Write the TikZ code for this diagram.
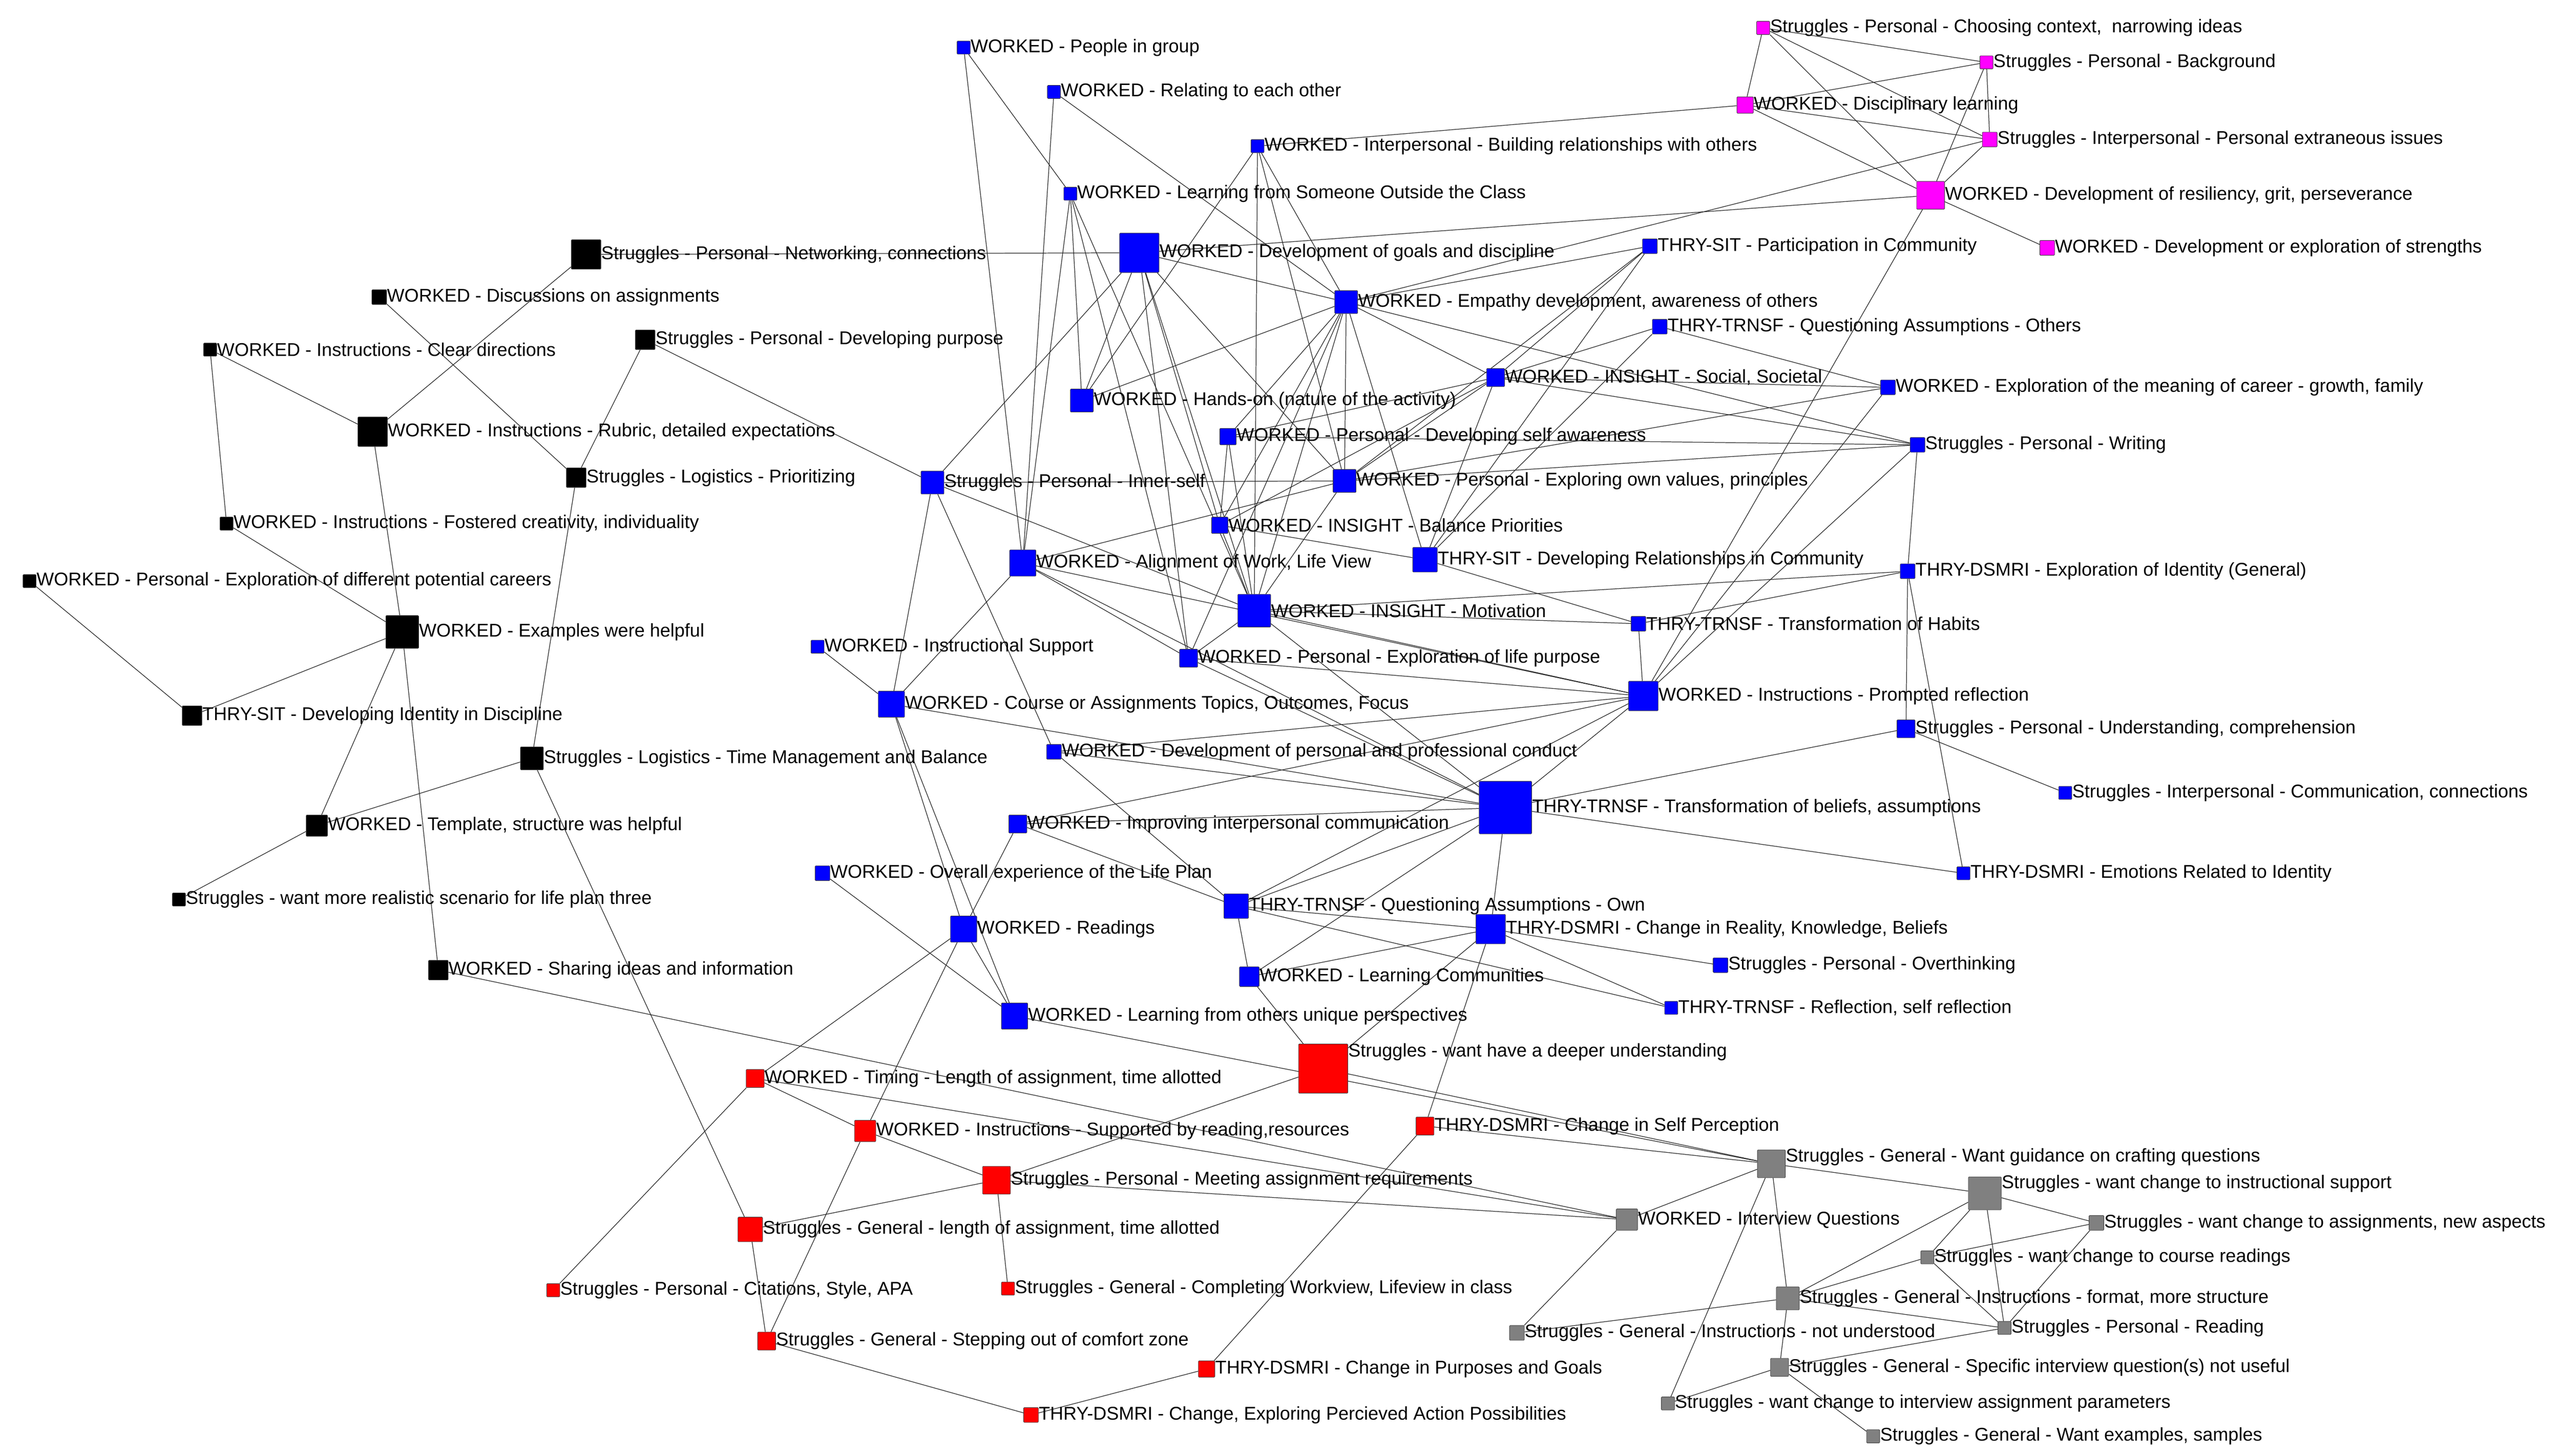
\documentclass[tikz,border=0pt]{standalone}
\usepackage{fontspec}
\setmainfont{Liberation Sans}
\usetikzlibrary{positioning, backgrounds}
\definecolor{pinkcode}{rgb}{1,0,1}

\begin{document}
\begin{tikzpicture}[x=0.05cm, y=-0.05cm,
    % square code nodes, size in mm
    code/.style={draw=black!75, rounded corners=0.6pt, inner sep=0pt,
        minimum size=#1mm, label distance=0.5pt},
    blk/.style={code=#1, fill=black},
    blu/.style={code=#1, fill=blue},
    mag/.style={code=#1, fill=pinkcode},
    rd/.style={code=#1, fill=red},
    gry/.style={code=#1, fill=gray},
    every label/.style={font=\fontsize{16}{18}\selectfont, inner sep=0pt, anchor=west},
    edge/.style={draw=black!85, line width=0.55pt}
]
\useasboundingbox (0,1) rectangle (1560,888);

% black group
\node[blk=9,label=right:{Struggles - Personal - Networking, connections}] (b1) at (357,156) {};
\node[blk=4.5,label=right:{WORKED - Discussions on assignments}] (b2) at (231,182) {};
\node[blk=4,label=right:{WORKED - Instructions - Clear directions}] (b3) at (128,214) {};
\node[blk=6,label=right:{Struggles - Personal - Developing purpose}] (b4) at (393,208) {};
\node[blk=9,label=right:{WORKED - Instructions - Rubric, detailed expectations}] (b5) at (227,264) {};
\node[blk=6,label=right:{Struggles - Logistics - Prioritizing}] (b6) at (351,292) {};
\node[blk=4,label=right:{WORKED - Instructions - Fostered creativity, individuality}] (b7) at (138,320) {};
\node[blk=4,label=right:{WORKED - Personal - Exploration of different potential careers}] (b8) at (18,355) {};
\node[blk=10,label=right:{WORKED - Examples were helpful}] (b9) at (245,386) {};
\node[blk=6,label=right:{THRY-SIT - Developing Identity in Discipline}] (b10) at (117,437) {};
\node[blk=7,label=right:{Struggles - Logistics - Time Management and Balance}] (b11) at (324,463) {};
\node[blk=6.5,label=right:{WORKED - Template, structure was helpful}] (b12) at (193,504) {};
\node[blk=4,label=right:{Struggles - want more realistic scenario for life plan three}] (b13) at (109,549) {};
\node[blk=6,label=right:{WORKED - Sharing ideas and information}] (b14) at (267,592) {};

% blue group
\node[blu=4,label=right:{WORKED - People in group}] (u1) at (587,30) {};
\node[blu=4,label=right:{WORKED - Relating to each other}] (u2) at (642,57) {};
\node[blu=4,label=right:{WORKED - Interpersonal - Building relationships with others}] (u3) at (766,90) {};
\node[blu=4,label=right:{WORKED - Learning from Someone Outside the Class}] (u4) at (652,119) {};
\node[blu=12,label=right:{WORKED - Development of goals and discipline}] (u5) at (694,155) {};
\node[blu=4.5,label=right:{THRY-SIT - Participation in Community}] (u6) at (1005,151) {};
\node[blu=7,label=right:{WORKED - Empathy development, awareness of others}] (u7) at (820,185) {};
\node[blu=4.5,label=right:{THRY-TRNSF - Questioning Assumptions - Others}] (u8) at (1011,200) {};
\node[blu=5.5,label=right:{WORKED - INSIGHT - Social, Societal}] (u9) at (911,231) {};
\node[blu=4.5,label=right:{WORKED - Exploration of the meaning of career - growth, family}] (u10) at (1150,237) {};
\node[blu=7,label=right:{WORKED - Hands-on (nature of the activity)}] (u11) at (659,245) {};
\node[blu=5,label=right:{WORKED - Personal - Developing self awareness}] (u12) at (748,267) {};
\node[blu=4.5,label=right:{Struggles - Personal - Writing}] (u13) at (1168,272) {};
\node[blu=7,label=right:{Struggles - Personal - Inner-self}] (u14) at (568,295) {};
\node[blu=7,label=right:{WORKED - Personal - Exploring own values, principles}] (u15) at (819,294) {};
\node[blu=5,label=right:{WORKED - INSIGHT - Balance Priorities}] (u16) at (743,321) {};
\node[blu=8,label=right:{WORKED - Alignment of Work, Life View}] (u17) at (623,344) {};
\node[blu=7.5,label=right:{THRY-SIT - Developing Relationships in Community}] (u18) at (868,342) {};
\node[blu=4.5,label=right:{THRY-DSMRI - Exploration of Identity (General)}] (u19) at (1162,349) {};
\node[blu=10,label=right:{WORKED - INSIGHT - Motivation}] (u20) at (764,373) {};
\node[blu=4.5,label=right:{THRY-TRNSF - Transformation of Habits}] (u21) at (998,381) {};
\node[blu=4,label=right:{WORKED - Instructional Support}] (u22) at (498,395) {};
\node[blu=5.5,label=right:{WORKED - Personal - Exploration of life purpose}] (u23) at (724,402) {};
\node[blu=9,label=right:{WORKED - Instructions - Prompted reflection}] (u24) at (1001,425) {};
\node[blu=8,label=right:{WORKED - Course or Assignments Topics, Outcomes, Focus}] (u25) at (543,430) {};
\node[blu=5.5,label=right:{Struggles - Personal - Understanding, comprehension}] (u26) at (1161,445) {};
\node[blu=4.5,label=right:{WORKED - Development of personal and professional conduct}] (u27) at (642,459) {};
\node[blu=4,label=right:{Struggles - Interpersonal - Communication, connections}] (u28) at (1258,484) {};
\node[blu=16,label=right:{THRY-TRNSF - Transformation of beliefs, assumptions}] (u29) at (917,493) {};
\node[blu=5.5,label=right:{WORKED - Improving interpersonal communication}] (u30) at (620,503) {};
\node[blu=4,label=right:{THRY-DSMRI - Emotions Related to Identity}] (u31) at (1196,533) {};
\node[blu=4.5,label=right:{WORKED - Overall experience of the Life Plan}] (u32) at (501,533) {};
\node[blu=7.5,label=right:{THRY-TRNSF - Questioning Assumptions - Own}] (u33) at (753,553) {};
\node[blu=8,label=right:{WORKED - Readings}] (u34) at (587,567) {};
\node[blu=9,label=right:{THRY-DSMRI - Change in Reality, Knowledge, Beliefs}] (u35) at (908,567) {};
\node[blu=4.5,label=right:{Struggles - Personal - Overthinking}] (u36) at (1048,589) {};
\node[blu=6,label=right:{WORKED - Learning Communities}] (u37) at (761,596) {};
\node[blu=4,label=right:{THRY-TRNSF - Reflection, self reflection}] (u38) at (1018,615) {};
\node[blu=8,label=right:{WORKED - Learning from others unique perspectives}] (u39) at (618,620) {};

% magenta group
\node[mag=4,label=right:{Struggles - Personal - Choosing context,\ \ narrowing ideas}] (m1) at (1074,18) {};
\node[mag=4,label=right:{Struggles - Personal - Background}] (m2) at (1210,39) {};
\node[mag=5,label=right:{WORKED - Disciplinary learning}] (m3) at (1063,65) {};
\node[mag=4.5,label=right:{Struggles - Interpersonal - Personal extraneous issues}] (m4) at (1212,86) {};
\node[mag=8.5,label=right:{WORKED - Development of resiliency, grit, perseverance}] (m5) at (1176,120) {};
\node[mag=4.5,label=right:{WORKED - Development or exploration of strengths}] (m6) at (1247,152) {};

% red group
\node[rd=15,label={[yshift=5mm]right:{Struggles - want have a deeper understanding}}] (r1) at (806,652) {};
\node[rd=5.5,label=right:{WORKED - Timing - Length of assignment, time allotted}] (r2) at (460,658) {};
\node[rd=5.5,label=right:{THRY-DSMRI - Change in Self Perception}] (r3) at (868,687) {};
\node[rd=6.5,label=right:{WORKED - Instructions - Supported by reading,resources}] (r4) at (527,690) {};
\node[rd=8.5,label=right:{Struggles - Personal - Meeting assignment requirements}] (r5) at (607,720) {};
\node[rd=7.5,label=right:{Struggles - General - length of assignment, time allotted}] (r6) at (457,750) {};
\node[rd=4,label=right:{Struggles - Personal - Citations, Style, APA}] (r7) at (337,787) {};
\node[rd=4,label=right:{Struggles - General - Completing Workview, Lifeview in class}] (r8) at (614,786) {};
\node[rd=5.5,label=right:{Struggles - General - Stepping out of comfort zone}] (r9) at (467,818) {};
\node[rd=5,label=right:{THRY-DSMRI - Change in Purposes and Goals}] (r10) at (735,835) {};
\node[rd=4.5,label=right:{THRY-DSMRI - Change, Exploring Percieved Action Possibilities}] (r11) at (628,863) {};

% gray group
\node[gry=8.5,label={[yshift=2mm]right:{Struggles - General - Want guidance on crafting questions}}] (g1) at (1079,710) {};
\node[gry=10,label={[yshift=3mm]right:{Struggles - want change to instructional support}}] (g2) at (1209,728) {};
\node[gry=6.5,label=right:{WORKED - Interview Questions}] (g3) at (991,744) {};
\node[gry=4.5,label=right:{Struggles - want change to assignments, new aspects}] (g4) at (1277,746) {};
\node[gry=4,label=right:{Struggles - want change to course readings}] (g5) at (1174,767) {};
\node[gry=7,label=right:{Struggles - General - Instructions - format, more structure}] (g6) at (1089,792) {};
\node[gry=4.5,label=right:{Struggles - General - Instructions - not understood}] (g7) at (924,813) {};
\node[gry=4,label=right:{Struggles - Personal - Reading}] (g8) at (1221,810) {};
\node[gry=5.5,label=right:{Struggles - General - Specific interview question(s) not useful}] (g9) at (1084,834) {};
\node[gry=4,label=right:{Struggles - want change to interview assignment parameters}] (g10) at (1016,856) {};
\node[gry=4,label=right:{Struggles - General - Want examples, samples}] (g11) at (1141,876) {};

\begin{pgfonlayer}{background}
\fill[white] (0,1) rectangle (1560,888);
\foreach \a/\b in {b1/b5, b2/b6, b3/b5, b3/b7, b4/b6, b4/u14, b5/b9, b7/b9, b8/b10,
    b9/b10, b9/b12, b9/b14, b6/b11, b11/b12, b12/b13, b11/r6, b14/g3, b1/u5}
    \draw[edge] (\a) -- (\b);
\foreach \a/\b in {u1/u4, u1/u17, u2/u17, u2/u7, u4/u11, u4/u17, u4/u20, u4/u23,
    u3/u11, u3/u15, u3/u7, u3/u20, u3/m3, u5/u7, u5/u14, u5/u11, u5/u16, u5/u20,
    u5/u23, u5/u15, u5/m5, u7/u9, u7/u16, u7/u15, u7/u20, u7/u12, u7/u13, u7/u18,
    u7/u6, u11/u7, u7/u23, u7/m4, u6/u9, u6/u18, u6/u15, u9/u8, u9/u10, u9/u13,
    u9/u12, u9/u15, u9/u18, u9/u16, u8/u10, u8/u18, u10/u15, u10/u24, u13/u15,
    u13/u19, u13/u24, u13/u12, m5/u24, u19/u20, u19/u21, u19/u31, u19/u26, u21/u20,
    u21/u18, u21/u24, u24/u23, u24/u20, u24/u27, u24/u29, u24/u33, u24/u30, u24/u17,
    u26/u28, u26/u29, u29/u31, u29/u27, u29/u30, u29/u33, u29/u35, u29/u20, u29/u23,
    u29/u25, u29/u37, u33/u35, u33/u37, u33/u27, u33/u30, u33/u38, u35/u36, u35/u38,
    u35/u37, u34/u25, u34/u39, u34/u30, u39/u32, u39/u25, u39/g1, u25/u22, u25/u14,
    u25/u17, u14/u15, u14/u20, u14/u27, u17/u15, u17/u23, u17/u29, u20/u12, u20/u16,
    u20/u23, u20/u15, u16/u12, u16/u18}
    \draw[edge] (\a) -- (\b);
\foreach \a/\b in {m1/m2, m1/m3, m1/m4, m1/m5, m3/m2, m3/m4, m3/m5, m2/m4, m2/m5,
    m4/m5, m5/m6}
    \draw[edge] (\a) -- (\b);
\foreach \a/\b in {r2/r4, r2/r7, r4/r5, r4/r9, r5/r6, r5/r8, r5/r1, r6/r9, r9/r11,
    r11/r10, r4/u34, r2/u34, r1/g1, r1/u37, r1/u35, r3/u35, r3/r10, r3/g1, r2/g3, r5/g3}
    \draw[edge] (\a) -- (\b);
\foreach \a/\b in {g1/g2, g1/g3, g1/g6, g1/g10, g2/g4, g2/g6, g2/g5, g2/g8, g3/g7,
    g6/g7, g6/g9, g6/g8, g5/g6, g5/g8, g8/g9, g9/g10, g9/g11, g4/g8, g4/g5}
    \draw[edge] (\a) -- (\b);
\end{pgfonlayer}
\end{tikzpicture}
\end{document}
